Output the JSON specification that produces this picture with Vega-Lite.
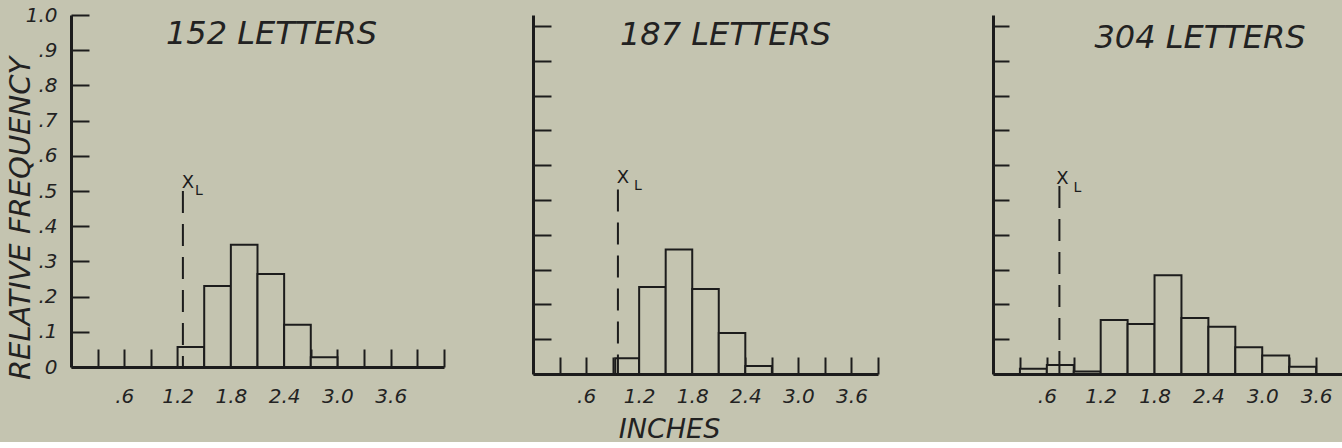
{
  "$schema": "https://vega.github.io/schema/vega-lite/v6.json",
  "background": "#c4c4b0",
  "padding": {"left": 5, "top": 5, "right": 0, "bottom": 0},
  "autosize": {"type": "pad"},
  "datasets": {
    "bars": [
      {"panel": "152", "start": 1.2, "end": 1.5, "freq": 0.057},
      {"panel": "152", "start": 1.5, "end": 1.8, "freq": 0.23},
      {"panel": "152", "start": 1.8, "end": 2.1, "freq": 0.347},
      {"panel": "152", "start": 2.1, "end": 2.4, "freq": 0.264},
      {"panel": "152", "start": 2.4, "end": 2.7, "freq": 0.12},
      {"panel": "152", "start": 2.7, "end": 3.0, "freq": 0.028},
      {"panel": "187", "start": 0.93, "end": 1.2, "freq": 0.045},
      {"panel": "187", "start": 1.2, "end": 1.5, "freq": 0.25},
      {"panel": "187", "start": 1.5, "end": 1.8, "freq": 0.358},
      {"panel": "187", "start": 1.8, "end": 2.1, "freq": 0.244},
      {"panel": "187", "start": 2.1, "end": 2.4, "freq": 0.118},
      {"panel": "187", "start": 2.4, "end": 2.7, "freq": 0.023},
      {"panel": "304", "start": 0.3, "end": 0.6, "freq": 0.015},
      {"panel": "304", "start": 0.6, "end": 0.9, "freq": 0.026},
      {"panel": "304", "start": 0.9, "end": 1.2, "freq": 0.007},
      {"panel": "304", "start": 1.2, "end": 1.5, "freq": 0.155},
      {"panel": "304", "start": 1.5, "end": 1.8, "freq": 0.144},
      {"panel": "304", "start": 1.8, "end": 2.1, "freq": 0.284},
      {"panel": "304", "start": 2.1, "end": 2.4, "freq": 0.161},
      {"panel": "304", "start": 2.4, "end": 2.7, "freq": 0.136},
      {"panel": "304", "start": 2.7, "end": 3.0, "freq": 0.077},
      {"panel": "304", "start": 3.0, "end": 3.3, "freq": 0.053},
      {"panel": "304", "start": 3.3, "end": 3.6, "freq": 0.021}
    ],
    "xl": [
      {"panel": "152", "xl": 1.26, "top": 0.5, "sym": "X", "sub": "L"},
      {"panel": "187", "xl": 0.96, "top": 0.53, "sym": "X", "sub": "L"},
      {"panel": "304", "xl": 0.74, "top": 0.54, "sym": "X", "sub": "L"}
    ]
  },
  "config": {
    "view": {"stroke": null},
    "font": "DejaVu Sans",
    "axis": {
      "grid": false,
      "tickCount": 30,
      "domainColor": "#1c1c1c",
      "domainWidth": 3,
      "tickColor": "#1c1c1c",
      "tickWidth": 2,
      "labelColor": "#222222",
      "labelFont": "DejaVu Sans",
      "labelFontStyle": "italic",
      "labelFontSize": 20,
      "labelFontWeight": "normal",
      "labelFlush": false,
      "labelOverlap": false,
      "titleColor": "#222222",
      "titleFont": "DejaVu Sans",
      "titleFontStyle": "italic",
      "titleFontWeight": "normal"
    },
    "title": {
      "font": "DejaVu Sans",
      "fontSize": 32,
      "fontStyle": "italic",
      "fontWeight": "normal",
      "color": "#222222",
      "anchor": "middle",
      "frame": "group",
      "baseline": "alphabetic"
    }
  },
  "bounds": "flush",
  "spacing": 89,
  "hconcat": [
    {
      "width": 373,
      "height": 352,
      "title": {"text": "152 LETTERS", "offset": -46, "dx": 14},
      "layer": [
        {
          "data": {"name": "bars"},
          "transform": [{"filter": "datum.panel == '152'"}],
          "mark": {"type": "bar", "fill": "#c4c4b0", "stroke": "#1c1c1c", "strokeWidth": 2},
          "encoding": {
            "x": {
              "field": "start", "type": "quantitative",
              "scale": {"domain": [0, 4.2], "nice": false, "zero": false},
              "axis": {
                "values": [0.3, 0.6, 0.9, 1.2, 1.5, 1.8, 2.1, 2.4, 2.7, 3.0, 3.3, 3.6, 3.9, 4.2],
                "tickCount": 30,
                "tickSize": -18,
                "labelPadding": 37,
                "labelAngle": 0,
                "labelExpr": "(round(datum.value*10) % 6 == 0 && round(datum.value*10) <= 36) ? (datum.value < 1 ? replace(format(datum.value, '.1f'), '0.', '.') : format(datum.value, '.1f')) : ''",
                "title": null
              }
            },
            "x2": {"field": "end"},
            "y": {
              "field": "freq", "type": "quantitative",
              "scale": {"domain": [0, 1], "nice": false},
              "axis": {
                "values": [0, 0.1, 0.2, 0.3, 0.4, 0.5, 0.6, 0.7, 0.8, 0.9, 1.0],
                "tickCount": 30,
                "tickSize": -18,
                "labelPadding": 32,
                "labelFontSize": 20,
                "labelExpr": "datum.value == 0 ? '0' : (datum.value >= 0.999 ? '1.0' : replace(format(datum.value, '.1f'), '0.', '.'))",
                "title": "RELATIVE FREQUENCY",
                "titleFontSize": 29,
                "titleAngle": 270,
                "titleX": -42,
                "titleY": 203,
                "titleAlign": "center",
                "titleBaseline": "alphabetic"
              }
            },
            "y2": {"datum": 0}
          }
        },
        {
          "data": {"name": "xl"},
          "transform": [{"filter": "datum.panel == '152'"}],
          "mark": {"type": "rule", "strokeDash": [22, 11], "strokeWidth": 2, "color": "#1c1c1c"},
          "encoding": {
            "x": {"field": "xl", "type": "quantitative"},
            "y": {"field": "top", "type": "quantitative"},
            "y2": {"datum": 0}
          }
        },
        {
          "data": {"name": "xl"},
          "transform": [{"filter": "datum.panel == '152'"}],
          "mark": {"type": "text", "align": "center", "baseline": "alphabetic", "dx": 5, "dy": -3, "fontSize": 18, "color": "#1c1c1c"},
          "encoding": {
            "x": {"field": "xl", "type": "quantitative"},
            "y": {"field": "top", "type": "quantitative"},
            "text": {"field": "sym"}
          }
        },
        {
          "data": {"name": "xl"},
          "transform": [{"filter": "datum.panel == '152'"}],
          "mark": {"type": "text", "align": "left", "baseline": "alphabetic", "dx": 12, "dy": 4, "fontSize": 14, "color": "#1c1c1c"},
          "encoding": {
            "x": {"field": "xl", "type": "quantitative"},
            "y": {"field": "top", "type": "quantitative"},
            "text": {"field": "sub"}
          }
        }
      ]
    },
    {
      "bounds": "flush",
      "spacing": 115,
      "hconcat": [
        {
          "width": 345,
          "height": 359,
          "title": {"text": "187 LETTERS", "offset": -37, "dx": 20},
          "layer": [
            {
              "data": {"name": "bars"},
              "transform": [{"filter": "datum.panel == '187'"}],
              "mark": {"type": "bar", "fill": "#c4c4b0", "stroke": "#1c1c1c", "strokeWidth": 2},
              "encoding": {
                "x": {
                  "field": "start", "type": "quantitative",
                  "scale": {"domain": [0, 3.9], "nice": false, "zero": false},
                  "axis": {
                    "values": [0.3, 0.6, 0.9, 1.2, 1.5, 1.8, 2.1, 2.4, 2.7, 3.0, 3.3, 3.6, 3.9],
                    "tickCount": 30,
                    "tickSize": -17,
                    "labelPadding": 29,
                    "labelAngle": 0,
                    "labelExpr": "(round(datum.value*10) % 6 == 0 && round(datum.value*10) <= 36) ? (datum.value < 1 ? replace(format(datum.value, '.1f'), '0.', '.') : format(datum.value, '.1f')) : ''",
                    "title": "INCHES",
                    "titleFontSize": 27,
                    "titleX": 136,
                    "titleY": 63,
                    "titleAlign": "center",
                    "titleBaseline": "alphabetic"
                  }
                },
                "x2": {"field": "end"},
                "y": {
                  "field": "freq", "type": "quantitative",
                  "scale": {"domain": [0, 1.0316], "nice": false},
                  "axis": {
                    "values": [0, 0.1, 0.2, 0.3, 0.4, 0.5, 0.6, 0.7, 0.8, 0.9, 1.0],
                    "tickCount": 30,
                    "tickSize": -18,
                    "labels": false,
                    "title": null
                  }
                },
                "y2": {"datum": 0}
              }
            },
            {
              "data": {"name": "xl"},
              "transform": [{"filter": "datum.panel == '187'"}],
              "mark": {"type": "rule", "strokeDash": [22, 11], "strokeWidth": 2, "color": "#1c1c1c"},
              "encoding": {
                "x": {"field": "xl", "type": "quantitative"},
                "y": {"field": "top", "type": "quantitative"},
                "y2": {"datum": 0}
              }
            },
            {
              "data": {"name": "xl"},
              "transform": [{"filter": "datum.panel == '187'"}],
              "mark": {"type": "text", "align": "center", "baseline": "alphabetic", "dx": 5, "dy": -7, "fontSize": 18, "color": "#1c1c1c"},
              "encoding": {
                "x": {"field": "xl", "type": "quantitative"},
                "y": {"field": "top", "type": "quantitative"},
                "text": {"field": "sym"}
              }
            },
            {
              "data": {"name": "xl"},
              "transform": [{"filter": "datum.panel == '187'"}],
              "mark": {"type": "text", "align": "left", "baseline": "alphabetic", "dx": 16, "dy": 0, "fontSize": 14, "color": "#1c1c1c"},
              "encoding": {
                "x": {"field": "xl", "type": "quantitative"},
                "y": {"field": "top", "type": "quantitative"},
                "text": {"field": "sub"}
              }
            }
          ]
        },
        {
          "width": 350,
          "height": 359,
          "title": {"text": "304 LETTERS", "offset": -40, "dx": 32},
          "layer": [
            {
              "data": {"name": "bars"},
              "transform": [{"filter": "datum.panel == '304'"}],
              "mark": {"type": "bar", "fill": "#c4c4b0", "stroke": "#1c1c1c", "strokeWidth": 2},
              "encoding": {
                "x": {
                  "field": "start", "type": "quantitative",
                  "scale": {"domain": [0, 3.9], "nice": false, "zero": false},
                  "axis": {
                    "values": [0.3, 0.6, 0.9, 1.2, 1.5, 1.8, 2.1, 2.4, 2.7, 3.0, 3.3, 3.6, 3.9],
                    "tickCount": 30,
                    "tickSize": -17,
                    "labelPadding": 29,
                    "labelAngle": 0,
                    "labelExpr": "(round(datum.value*10) % 6 == 0 && round(datum.value*10) <= 36) ? (datum.value < 1 ? replace(format(datum.value, '.1f'), '0.', '.') : format(datum.value, '.1f')) : ''",
                    "title": null
                  }
                },
                "x2": {"field": "end"},
                "y": {
                  "field": "freq", "type": "quantitative",
                  "scale": {"domain": [0, 1.0316], "nice": false},
                  "axis": {
                    "values": [0, 0.1, 0.2, 0.3, 0.4, 0.5, 0.6, 0.7, 0.8, 0.9, 1.0],
                    "tickCount": 30,
                    "tickSize": -16,
                    "labels": false,
                    "title": null
                  }
                },
                "y2": {"datum": 0}
              }
            },
            {
              "data": {"name": "xl"},
              "transform": [{"filter": "datum.panel == '304'"}],
              "mark": {"type": "rule", "strokeDash": [22, 11], "strokeWidth": 2, "color": "#1c1c1c"},
              "encoding": {
                "x": {"field": "xl", "type": "quantitative"},
                "y": {"field": "top", "type": "quantitative"},
                "y2": {"datum": 0}
              }
            },
            {
              "data": {"name": "xl"},
              "transform": [{"filter": "datum.panel == '304'"}],
              "mark": {"type": "text", "align": "center", "baseline": "alphabetic", "dx": 3, "dy": -2, "fontSize": 18, "color": "#1c1c1c"},
              "encoding": {
                "x": {"field": "xl", "type": "quantitative"},
                "y": {"field": "top", "type": "quantitative"},
                "text": {"field": "sym"}
              }
            },
            {
              "data": {"name": "xl"},
              "transform": [{"filter": "datum.panel == '304'"}],
              "mark": {"type": "text", "align": "left", "baseline": "alphabetic", "dx": 14, "dy": 6, "fontSize": 14, "color": "#1c1c1c"},
              "encoding": {
                "x": {"field": "xl", "type": "quantitative"},
                "y": {"field": "top", "type": "quantitative"},
                "text": {"field": "sub"}
              }
            }
          ]
        }
      ]
    }
  ]
}
